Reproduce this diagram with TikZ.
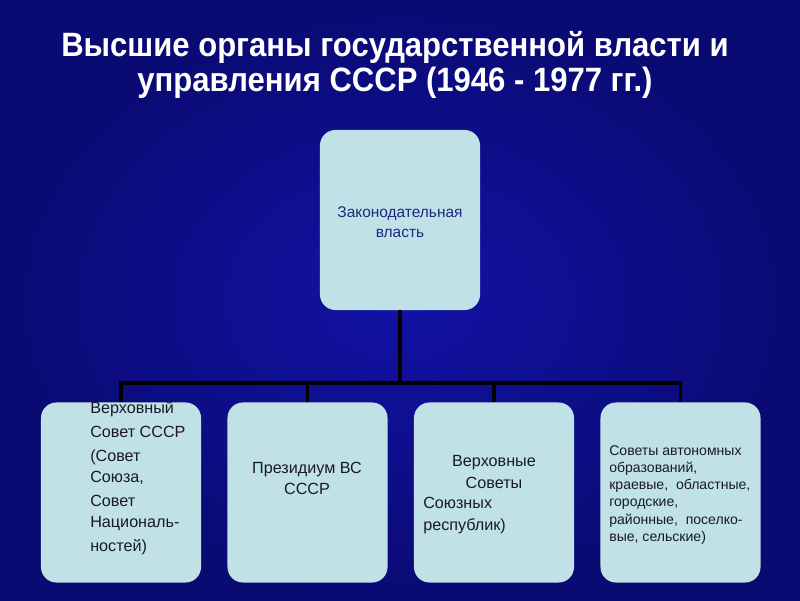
\documentclass[tikz,border=0pt]{standalone}
\usepackage{fontspec}
\setmainfont{Liberation Sans}
\newfontfamily\titlefont[FakeStretch=0.92]{Liberation Sans}
\usepackage{tikz}
\usetikzlibrary{positioning}

\definecolor{bgblue}{RGB}{18,18,165}
\definecolor{bgdark}{RGB}{10,10,115}
\definecolor{boxfill}{RGB}{192,226,230}
\definecolor{boxtext}{RGB}{25,25,40}
\definecolor{navytext}{RGB}{28,40,130}

\begin{document}
\begin{tikzpicture}[x=0.025cm, y=0.025cm,
    box/.style = {fill=boxfill, rounded corners=11pt, minimum width=4cm, minimum height=4.5cm, inner sep=0pt},
    conn/.style = {line width=2.6pt, black},
    txt/.style = {text=boxtext, font=\fontsize{11.5}{15}\selectfont, inner sep=0pt}]
    % background
    \shade[inner color=bgblue, outer color=bgdark] (0,0) rectangle (800,600);
    \useasboundingbox (0,0) rectangle (800,600);
    % title
    \node[text=white, font=\titlefont\bfseries\fontsize{24}{25}\selectfont, align=center] (title) at (395,535) {Высшие органы государственной власти и\\ управления СССР (1946 - 1977 гг.)};
    % boxes
    \node[box] (top) at (400,380) {};
    \node[box] (b1) at (121,107.5) {};
    \node[box] (b2) at (307.5,107.5) {};
    \node[box] (b3) at (494,107.5) {};
    \node[box] (b4) at (680.5,107.5) {};
    \coordinate (bus) at (400,217);
    % connectors
    \draw[conn] (top.south) -- (bus);
    \foreach \b in {b1,b2,b3,b4}
        \draw[conn] (bus) -| (\b.north);
    % texts
    \node[txt, text=navytext, font=\fontsize{11}{14}\selectfont, align=center] (toptxt) at (top) [yshift=-0.05cm] {Законодательная\\ власть};
    \node[txt, align=left, anchor=north west] (t1) at (90,199) {Верховный\\[2pt] Совет СССР\\[2pt] (Совет\\ Союза,\\[2pt] Совет\\ Националь-\\[2pt] ностей)};
    \node[txt, align=center] (t2) at (307,122) {Президиум ВС\\ СССР};
    \node[txt, align=center, anchor=base] (t3a) at (494,112) {Верховные\\ Советы};
    \node[txt, align=left, anchor=base west] (t3b) at (423,70) {Союзных\\ республик)};
    \node[txt, font=\fontsize{10}{12.3}\selectfont, align=left, anchor=north west] (t4) at (609,155) {Советы автономных\\ образований,\\ краевые,\ \ областные,\\ городские,\\ районные,\ \ поселко-\\ вые, сельские)};
\end{tikzpicture}
\end{document}
